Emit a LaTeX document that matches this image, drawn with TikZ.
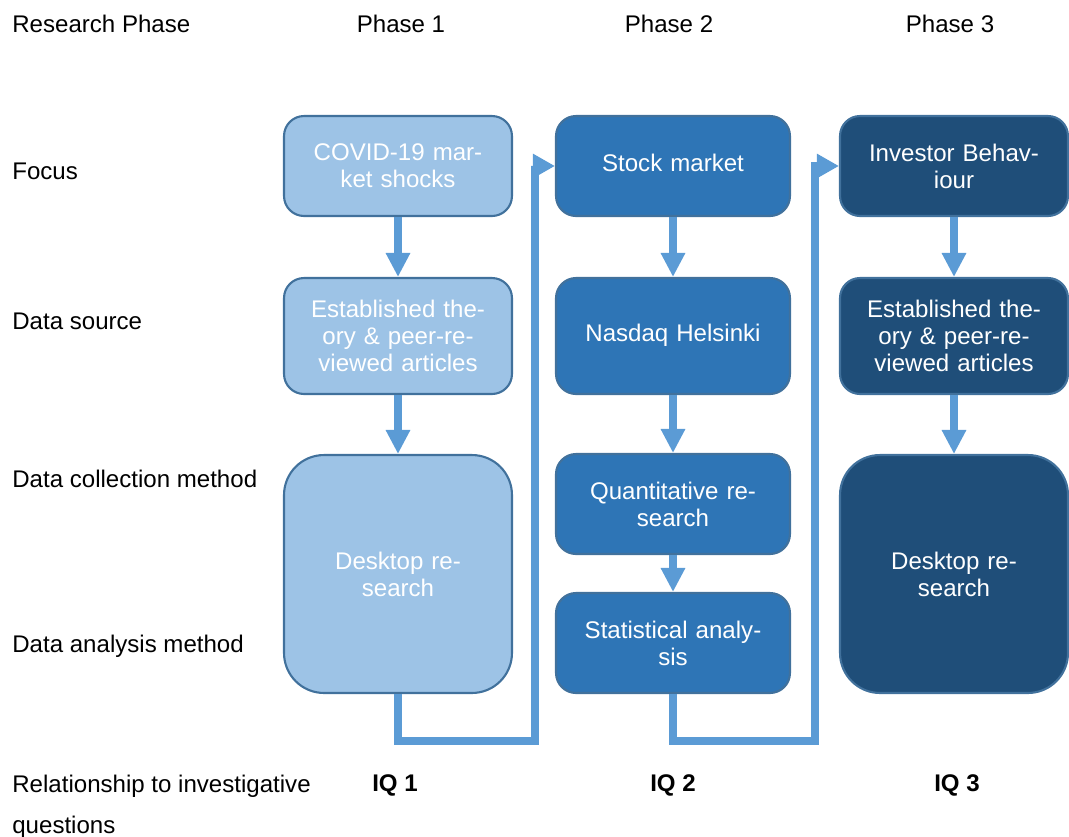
\documentclass[tikz,border=0pt]{standalone}
\usepackage{fontspec}
\setmainfont{Liberation Sans}
\usetikzlibrary{arrows.meta,positioning,calc}
\definecolor{phaseA}{HTML}{9DC3E6}
\definecolor{phaseB}{HTML}{2E75B6}
\definecolor{phaseC}{HTML}{1F4E79}
\definecolor{edgeblue}{HTML}{41719C}
\definecolor{arrowblue}{HTML}{5B9BD5}
\newcommand{\diagfont}{\fontsize{13.7pt}{15.4pt}\selectfont}

\tikzset{
  box/.style={draw=edgeblue, line width=1.2pt, rounded corners=0.4cm,
    minimum width=4.56cm, minimum height=2cm, text width=4.3cm,
    align=center, text=white, inner sep=0pt},
  tallbox/.style={box, rounded corners=0.8cm, minimum height=4.76cm},
  midbox/.style={box, minimum height=2.32cm},
  rowlabel/.style={anchor=west, inner sep=0pt},
  down/.style={draw=arrowblue, line width=0.16cm,
    -{Triangle[length=0.48cm,width=0.46cm]}},
  conn/.style={draw=arrowblue, line width=0.16cm, line join=miter,
    -{Triangle[length=0.44cm,width=0.46cm]}},
}

\begin{document}
\begin{tikzpicture}[x=0.02cm, y=-0.02cm, font=\diagfont]
  \useasboundingbox (0,0) rectangle (1069,836);

  % 見出し
  \node[rowlabel] (head) at (12,24) {Research Phase};
  \foreach \x/\k in {401/1, 669/2, 950/3} {
    \node (ph\k) at (\x,24) {Phase \k};
  }

  % 行ラベル
  \foreach \y/\txt [count=\k] in {171/Focus, 321/Data source,
      479/Data collection method, 646/Data analysis method} {
    \node[rowlabel] (row\k) at (12,\y) {\txt};
  }
  \node[rowlabel, align=left, font=\fontsize{13.7pt}{23.3pt}\selectfont]
    (rel) at (12,807) {Relationship to investigative\\questions};

  % Phase 1
  \node[box, fill=phaseA] (f1) at (398,166) {COVID-19 mar-\\ket shocks};
  \node[midbox, fill=phaseA] (s1) at (398,336) {Established the-\\ory \& peer-re-\\viewed articles};
  \node[tallbox, fill=phaseA] (d1) at (398,574) {Desktop re-\\search};

  % Phase 2
  \node[box, fill=phaseB, minimum width=4.68cm] (f2) at (673,166) {\raisebox{0.12cm}{Stock market}};
  \node[midbox, fill=phaseB, minimum width=4.68cm] (s2) at (673,336) {\raisebox{0.12cm}{Nasdaq Helsinki}};
  \node[box, fill=phaseB, minimum width=4.68cm] (c2) at (673,504) {Quantitative re-\\search};
  \node[box, fill=phaseB, minimum width=4.68cm] (a2) at (673,643) {Statistical analy-\\sis};

  % Phase 3
  \node[box, fill=phaseC] (f3) at (954,166) {Investor Behav-\\iour};
  \node[midbox, fill=phaseC] (s3) at (954,336) {Established the-\\ory \& peer-re-\\viewed articles};
  \node[tallbox, fill=phaseC] (d3) at (954,574) {Desktop re-\\search};

  % 矢印
  \draw[down] (f1) -- (s1);
  \draw[down] (s1) -- (d1);
  \draw[down] (f2) -- (s2);
  \draw[down] (s2) -- (c2);
  \draw[down] (c2) -- (a2);
  \draw[down] (f3) -- (s3);
  \draw[down] (s3) -- (d3);

  % 次のフェーズへ
  \draw[conn] (d1.south) -- ++(0,47) -| ([xshift=-0.4cm]f2.west) -- (f2.west);
  \draw[conn] (a2.south) -- ++(0,47) -| ([xshift=-0.48cm]f3.west) -- (f3.west);

  % IQ
  \foreach \x/\k in {395/1, 673/2, 957/3} {
    \node[font=\diagfont\bfseries] (iq\k) at (\x,785) {IQ \k};
  }
\end{tikzpicture}
\end{document}
